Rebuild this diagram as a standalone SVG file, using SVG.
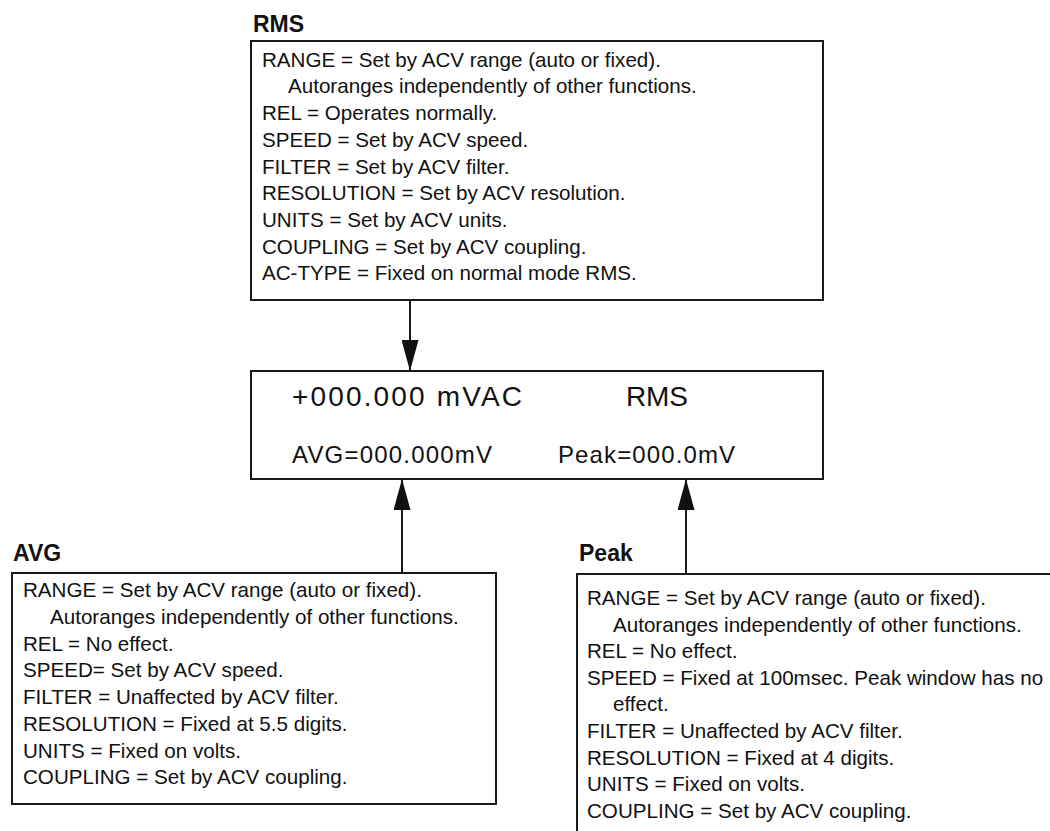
<svg xmlns="http://www.w3.org/2000/svg" width="1050" height="831" viewBox="0 0 1050 831">
<style>
  .box{fill:#fff;stroke:#1a1a1a;stroke-width:2}
  .t{font-family:"Liberation Sans",Arial,sans-serif;font-size:20.6px;fill:#111}
  .h{font-family:"Liberation Sans",Arial,sans-serif;font-size:23px;font-weight:bold;fill:#111}
  .d1{font-family:"Liberation Sans",Arial,sans-serif;font-size:28px;fill:#111}
  .d2{font-family:"Liberation Sans",Arial,sans-serif;font-size:24px;fill:#111}
  .c{stroke:#1a1a1a;stroke-width:2;fill:none}
</style>
<defs>
  <marker id="ah" markerUnits="userSpaceOnUse" markerWidth="31" markerHeight="17" refX="31" refY="8.5" orient="auto">
    <path d="M0,0 L31,8.5 L0,17 z" fill="#111"/>
  </marker>
</defs>
<rect width="1050" height="831" fill="#fff"/>

<g id="rms">
  <text class="h" x="253" y="32">RMS</text>
  <rect class="box" x="251" y="41" width="572" height="259"/>
  <text class="t" x="262" y="66.7">RANGE = Set by ACV range (auto or fixed).</text>
  <text class="t" x="288" y="93.4">Autoranges independently of other functions.</text>
  <text class="t" x="262" y="120.1">REL = Operates normally.</text>
  <text class="t" x="262" y="146.8">SPEED = Set by ACV speed.</text>
  <text class="t" x="262" y="173.5">FILTER = Set by ACV filter.</text>
  <text class="t" x="262" y="200.2">RESOLUTION = Set by ACV resolution.</text>
  <text class="t" x="262" y="226.9">UNITS = Set by ACV units.</text>
  <text class="t" x="262" y="253.6">COUPLING = Set by ACV coupling.</text>
  <text class="t" x="262" y="280.3">AC-TYPE = Fixed on normal mode RMS.</text>
</g>

<g id="display">
  <rect class="box" x="251" y="371" width="572" height="108"/>
  <text class="d1" x="292" y="406" textLength="230" lengthAdjust="spacing">+000.000 mVAC</text>
  <text class="d1" x="626" y="406" textLength="62" lengthAdjust="spacing">RMS</text>
  <text class="d2" x="292" y="463" textLength="200" lengthAdjust="spacing">AVG=000.000mV</text>
  <text class="d2" x="558" y="463" textLength="177" lengthAdjust="spacing">Peak=000.0mV</text>
</g>

<g id="avg">
  <text class="h" x="13" y="561">AVG</text>
  <rect class="box" x="12" y="573" width="484" height="231"/>
  <text class="t" x="23" y="597.3">RANGE = Set by ACV range (auto or fixed).</text>
  <text class="t" x="50" y="624">Autoranges independently of other functions.</text>
  <text class="t" x="23" y="650.7">REL = No effect.</text>
  <text class="t" x="23" y="677.4">SPEED= Set by ACV speed.</text>
  <text class="t" x="23" y="704.1">FILTER = Unaffected by ACV filter.</text>
  <text class="t" x="23" y="730.8">RESOLUTION = Fixed at 5.5 digits.</text>
  <text class="t" x="23" y="757.5">UNITS = Fixed on volts.</text>
  <text class="t" x="23" y="784.2">COUPLING = Set by ACV coupling.</text>
</g>

<g id="peak">
  <text class="h" x="579" y="561">Peak</text>
  <rect class="box" x="577" y="574" width="520" height="300"/>
  <text class="t" x="587" y="605">RANGE = Set by ACV range (auto or fixed).</text>
  <text class="t" x="613" y="631.6">Autoranges independently of other functions.</text>
  <text class="t" x="587" y="658.2">REL = No effect.</text>
  <text class="t" x="587" y="684.8">SPEED = Fixed at 100msec. Peak window has no</text>
  <text class="t" x="613" y="711.4">effect.</text>
  <text class="t" x="587" y="738">FILTER = Unaffected by ACV filter.</text>
  <text class="t" x="587" y="764.6">RESOLUTION = Fixed at 4 digits.</text>
  <text class="t" x="587" y="791.2">UNITS = Fixed on volts.</text>
  <text class="t" x="587" y="817.8">COUPLING = Set by ACV coupling.</text>
</g>

<g id="connectors">
  <line class="c" x1="410" y1="300" x2="410" y2="371" marker-end="url(#ah)"/>
  <line class="c" x1="402" y1="573" x2="402" y2="479" marker-end="url(#ah)"/>
  <line class="c" x1="686" y1="574" x2="686" y2="479" marker-end="url(#ah)"/>
</g>
</svg>
